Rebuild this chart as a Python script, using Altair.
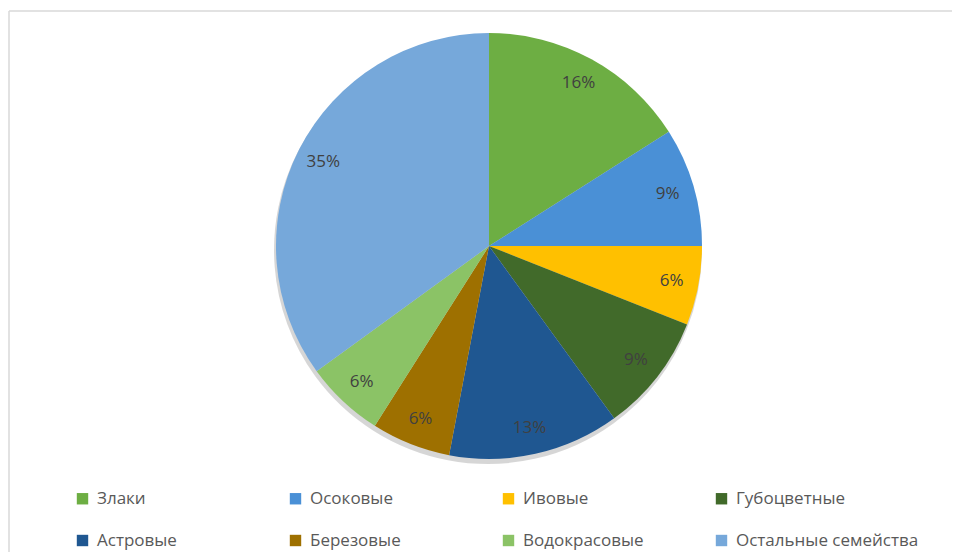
import altair as alt
import pandas as pd

families = ["Злаки", "Осоковые", "Ивовые", "Губоцветные", "Астровые",
            "Березовые", "Водокрасовые", "Остальные семейства"]
shares = [16, 9, 6, 9, 13, 6, 6, 35]
colors = ["#6DAE43", "#4A90D6", "#FFC000", "#416A2A", "#1F5791",
          "#9E7000", "#8BC366", "#76A8DA"]

df = pd.DataFrame({
    "family": families,
    "value": shares,
    "order": list(range(len(families))),
    "pct": [f"{v}%" for v in shares],
})

W, H = 943, 541
CX, CY, R = 480, 235, 213
FONT = "Open Sans"

base = alt.Chart(df).encode(
    theta=alt.Theta("value:Q", stack=True),
    order=alt.Order("order:Q"),
)

shadow = base.mark_arc(outerRadius=R + 1, color="#000000", opacity=0.16).encode(
    x=alt.value(CX - 1), y=alt.value(CY + 4)
)

pie = base.mark_arc(outerRadius=R).encode(
    x=alt.value(CX), y=alt.value(CY),
    color=alt.Color(
        "family:N",
        scale=alt.Scale(domain=families, range=colors),
        sort=families,
        legend=alt.Legend(
            title=None, orient="none", legendX=65, legendY=479,
            direction="horizontal", columns=4, gridAlign="all",
            columnPadding=7, rowPadding=24, padding=0,
            symbolType="square", symbolSize=130, symbolStrokeWidth=0,
            labelFont=FONT, labelFontSize=17,
            labelColor="#595959", labelOffset=6, labelLimit=300,
        ),
    ),
)

labels = base.mark_text(radius=186, fontSize=17, font=FONT,
                        color="#404040").encode(
    x=alt.value(CX), y=alt.value(CY), text="pct:N"
)

frame_df = pd.DataFrame({"k": [0]})
top_line = alt.Chart(frame_df).mark_rule(color="#D9D9D9", strokeWidth=1.5).encode(
    x=alt.value(0), x2=alt.value(W), y=alt.value(0)
)
left_line = alt.Chart(frame_df).mark_rule(color="#D9D9D9", strokeWidth=1.5).encode(
    x=alt.value(0), y=alt.value(0), y2=alt.value(H)
)

chart = alt.layer(top_line, left_line, shadow, pie, labels).properties(
    width=W, height=H,
    autosize=alt.AutoSizeParams(type="none"),
    padding={"left": 1, "top": 3, "right": 0, "bottom": 0},
).configure_view(stroke=None)

chart.save("out.html", embed_options={"renderer": "svg", "actions": False})
